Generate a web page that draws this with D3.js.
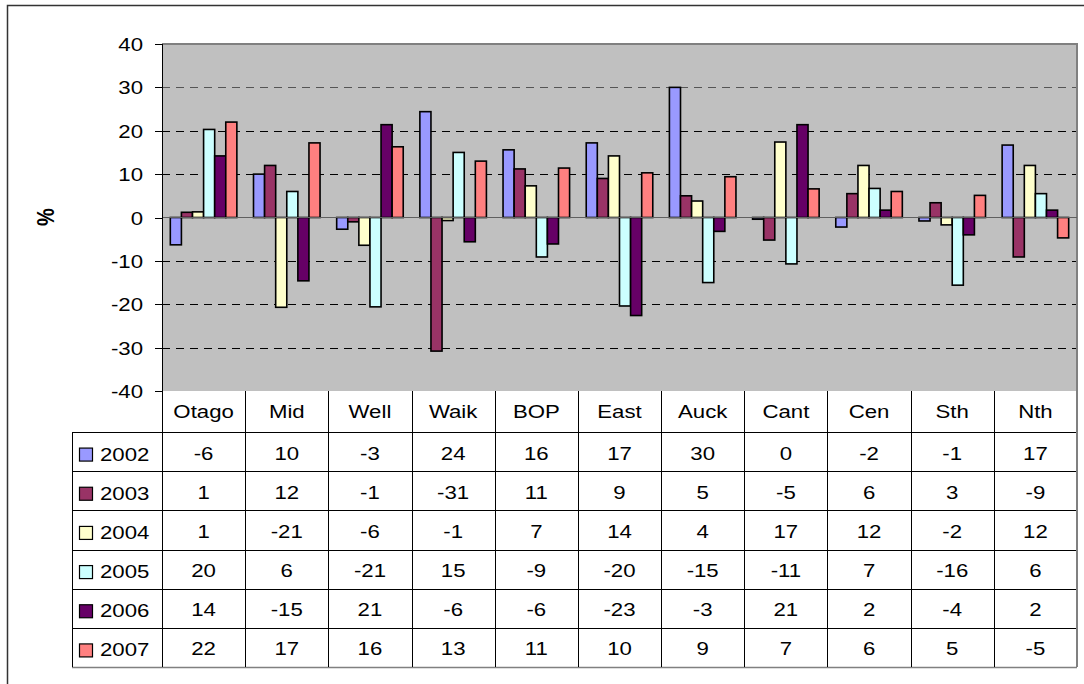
<!DOCTYPE html>
<html>
<head>
<meta charset="utf-8">
<script src="https://cdn.jsdelivr.net/npm/d3@7"></script>
<style>
  body { margin: 0; background: #fff; }
  text { font-family: "Liberation Sans", Arial, sans-serif; fill: #000; }
</style>
</head>
<body>
<div id="chart"></div>
<script>
const regions = ["Otago", "Mid", "Well", "Waik", "BOP", "East", "Auck", "Cant", "Cen", "Sth", "Nth"];
const years = ["2002", "2003", "2004", "2005", "2006", "2007"];
const yTicks = [-40, -30, -20, -10, 0, 10, 20, 30, 40];

// one array per year, in the order of regions (% change)
const v2002 = [-6.3, 10, -2.7, 24.4, 15.6, 17.2, 30, -0.4, -2.2, -0.8, 16.7];
const v2003 = [1.2, 12, -1, -30.8, 11.2, 9, 5, -5.2, 5.5, 3.4, -9.1];
const v2004 = [1.3, -20.7, -6.4, -0.7, 7.3, 14.2, 3.8, 17.4, 12, -1.7, 12];
const v2005 = [20.3, 6, -20.6, 15, -9.1, -20.4, -15, -10.7, 6.7, -15.6, 5.5];
const v2006 = [14.2, -14.6, 21.4, -5.6, -6.1, -22.6, -3.2, 21.4, 1.7, -4, 1.7];
const v2007 = [22, 17.2, 16.3, 13, 11.4, 10.3, 9.4, 6.6, 6, 5.1, -4.7];

const series = [v2002, v2003, v2004, v2005, v2006, v2007];
const colors = ["#9999FF", "#993366", "#FFFFCC", "#CCFFFF", "#660066", "#FF8080"];

const W = 1084, H = 684;
const plot = { left: 162, right: 1077, top: 44, bottom: 391 };
const table = { left: 72, header: 432, bottom: 667 };
const fs = 18.5, sx = 1.2; // the original is stretched horizontally

const svg = d3.select("#chart").append("svg")
    .attr("width", W)
    .attr("height", H);

// outer frame (only left and top show in the picture)
svg.append("path")
    .attr("d", `M7.5,${H} V5.5 H${W}`)
    .attr("fill", "none")
    .attr("stroke", "#333")
    .attr("stroke-width", 1.5);

const x0 = d3.scaleBand().domain(regions).range([plot.left, plot.right]);
const x1 = d3.scaleBand().domain(years).range([0, x0.bandwidth()]).paddingOuter(0.75);
const y = d3.scaleLinear().domain([-40, 40]).range([plot.bottom, plot.top]);
const rowY = d3.scaleBand().domain(years).range([table.header, table.bottom]);

// plot area
svg.append("rect")
    .attr("x", plot.left)
    .attr("y", plot.top)
    .attr("width", plot.right - plot.left)
    .attr("height", plot.bottom - plot.top)
    .attr("fill", "#C0C0C0");

svg.append("g")
    .selectAll("line")
    .data(yTicks.filter(d => d !== 0 && d !== 40 && d !== -40))
    .enter().append("line")
    .attr("x1", plot.left)
    .attr("x2", plot.right)
    .attr("y1", d => Math.round(y(d)) + 0.5)
    .attr("y2", d => Math.round(y(d)) + 0.5)
    .attr("stroke", d => d === 30 ? "#555" : "#000")
    .attr("stroke-dasharray", "8,6");

// top and right border of the plot area
svg.append("path")
    .attr("d", `M${plot.left},${plot.top} H${plot.right} V${plot.bottom}`)
    .attr("fill", "none")
    .attr("stroke", "#808080")
    .attr("stroke-width", 2);

// bars
const groups = svg.append("g")
    .selectAll("g")
    .data(regions)
    .enter().append("g")
    .attr("transform", d => `translate(${x0(d)},0)`);

groups.selectAll("rect")
    .data((r, i) => years.map((yr, j) => ({ year: yr, value: series[j][i], color: colors[j] })))
    .enter().append("rect")
    .attr("x", d => x1(d.year))
    .attr("width", x1.bandwidth())
    .attr("y", d => y(Math.max(0, d.value)))
    .attr("height", d => Math.abs(y(d.value) - y(0)))
    .attr("fill", d => d.color)
    .attr("stroke", "#000")
    .attr("stroke-width", 1.6);

// zero line
svg.append("line")
    .attr("x1", plot.left)
    .attr("x2", plot.right)
    .attr("y1", y(0))
    .attr("y2", y(0))
    .attr("stroke", "#606060")
    .attr("stroke-width", 1.2);

// y axis
const yAxis = svg.append("g");
yAxis.append("line")
    .attr("x1", plot.left + 0.5).attr("x2", plot.left + 0.5)
    .attr("y1", plot.top).attr("y2", plot.bottom)
    .attr("stroke", "#000");
yAxis.selectAll(".tick")
    .data(yTicks)
    .enter().append("line")
    .attr("x1", plot.left - 7).attr("x2", plot.left)
    .attr("y1", d => Math.round(y(d)) + 0.5)
    .attr("y2", d => Math.round(y(d)) + 0.5)
    .attr("stroke", "#000");
yAxis.selectAll("text")
    .data(yTicks)
    .enter().append("text")
    .attr("transform", d => `translate(143,${y(d) + 7}) scale(${sx},1)`)
    .attr("text-anchor", "end")
    .attr("font-size", fs)
    .text(d => d);

svg.append("text")
    .attr("transform", "translate(54,217) rotate(-90) scale(1,1.2)")
    .attr("text-anchor", "middle")
    .attr("font-size", 20)
    .attr("font-weight", "bold")
    .text("%");

// data table
const tbl = svg.append("g");

// horizontal lines
tbl.selectAll(".hline")
    .data(years.map(d => rowY(d)).concat([table.bottom]))
    .enter().append("line")
    .attr("x1", table.left)
    .attr("x2", plot.right)
    .attr("y1", d => Math.round(d) + 0.5)
    .attr("y2", d => Math.round(d) + 0.5)
    .attr("stroke", (d, i, n) => i === n.length - 1 ? "#808080" : "#000")
    .attr("stroke-width", (d, i, n) => i === n.length - 1 ? 1.5 : 1);

// vertical lines
tbl.selectAll(".vline")
    .data(regions.slice(1).map(d => x0(d)))
    .enter().append("line")
    .attr("x1", d => Math.round(d) + 0.5)
    .attr("x2", d => Math.round(d) + 0.5)
    .attr("y1", plot.bottom)
    .attr("y2", table.bottom)
    .attr("stroke", "#000");

tbl.append("line")
    .attr("x1", plot.left + 0.5).attr("x2", plot.left + 0.5)
    .attr("y1", plot.bottom).attr("y2", table.bottom)
    .attr("stroke", "#000");
tbl.append("line")
    .attr("x1", table.left + 0.5).attr("x2", table.left + 0.5)
    .attr("y1", table.header).attr("y2", table.bottom)
    .attr("stroke", "#000");
tbl.append("line")
    .attr("x1", plot.right).attr("x2", plot.right)
    .attr("y1", plot.bottom).attr("y2", table.bottom)
    .attr("stroke", "#808080")
    .attr("stroke-width", 2);

// header
tbl.selectAll(".head")
    .data(regions)
    .enter().append("text")
    .attr("transform", d => `translate(${x0(d) + x0.bandwidth() / 2},${(plot.bottom + table.header) / 2 + 6.5}) scale(${sx},1)`)
    .attr("text-anchor", "middle")
    .attr("font-size", fs)
    .text(d => d);

// legend column
const legendRows = tbl.selectAll(".legend")
    .data(years)
    .enter().append("g")
    .attr("transform", d => `translate(0,${rowY(d) + rowY.bandwidth() / 2})`);

legendRows.append("rect")
    .attr("x", 79.5)
    .attr("y", -3.5)
    .attr("width", 13)
    .attr("height", 13)
    .attr("fill", (d, i) => colors[i])
    .attr("stroke", "#000")
    .attr("stroke-width", 1.2);

legendRows.append("text")
    .attr("transform", `translate(100,9) scale(${sx},1)`)
    .attr("font-size", fs)
    .text(d => d);

// values
years.forEach((yr, j) => {
    tbl.selectAll(".val" + yr)
        .data(regions)
        .enter().append("text")
        .attr("transform", d => `translate(${x0(d) + x0.bandwidth() / 2},${rowY(yr) + rowY.bandwidth() / 2 + 8}) scale(${sx},1)`)
        .attr("text-anchor", "middle")
        .attr("font-size", fs)
        .text((d, i) => Math.round(series[j][i]) + 0);
});
</script>
</body>
</html>
